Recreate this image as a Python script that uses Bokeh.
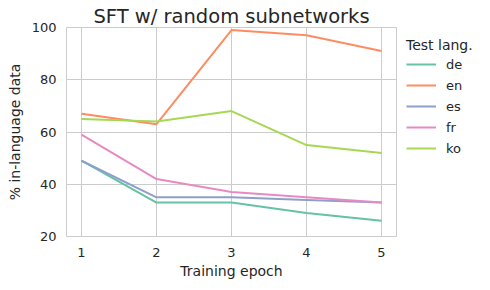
from bokeh.plotting import figure
from bokeh.models import Legend, LegendItem, Range1d, FixedTicker
from bokeh.embed import file_html
from bokeh.resources import INLINE

epochs = [1, 2, 3, 4, 5]
languages = ["de", "en", "es", "fr", "ko"]
de = [49, 33, 33, 29, 26]
en = [67, 63, 99, 97, 91]
es = [49, 35, 35, 34, 33]
fr = [59, 42, 37, 35, 33]
ko = [65, 64, 68, 55, 52]
series = [de, en, es, fr, ko]
colors = ["#66c2a5", "#fc8d62", "#8da0cb", "#e78ac3", "#a6d854"]
y_ticks = [20, 40, 60, 80, 100]

FONT = "DejaVu Sans"
TXT = "#262626"

p = figure(frame_width=330, frame_height=209, output_backend="svg", toolbar_location=None,
           x_range=Range1d(0.8, 5.2), y_range=Range1d(20, 100),
           min_border_left=66, min_border_right=4, min_border_bottom=45, min_border_top=27)

p.title.text = "SFT w/ random subnetworks"
p.title.text_font = FONT
p.title.text_font_size = "19.5px"
p.title.text_font_style = "normal"
p.title.text_color = TXT
p.title.align = "center"
p.title.standoff = 0

items = []
for lang, vals, c in zip(languages, series, colors):
    r = p.line(epochs, vals, line_color=c, line_width=2)
    items.append(LegendItem(label=lang, renderers=[r]))

legend = Legend(items=items, title="Test lang.", location="top_left",
                border_line_color=None, background_fill_alpha=0,
                label_text_font=FONT, label_text_font_size="13px", label_text_color=TXT,
                title_text_font=FONT, title_text_font_size="14px", title_text_font_style="normal",
                title_text_color=TXT, glyph_width=30, glyph_height=16, spacing=5,
                label_standoff=10, padding=4, margin=10, title_standoff=3)
p.add_layout(legend, "right")

p.xaxis.ticker = FixedTicker(ticks=epochs)
p.yaxis.ticker = FixedTicker(ticks=y_ticks)
for ax in (p.xaxis, p.yaxis):
    ax.axis_line_color = None
    ax.major_tick_line_color = None
    ax.minor_tick_line_color = None
    ax.major_label_text_font = FONT
    ax.major_label_text_font_size = "13px"
    ax.major_label_text_color = TXT
    ax.axis_label_text_font = FONT
    ax.axis_label_text_font_size = "14px"
    ax.axis_label_text_font_style = "normal"
    ax.axis_label_text_color = TXT
p.xaxis.major_label_standoff = 5
p.xaxis.axis_label_standoff = 3
p.yaxis.major_label_standoff = 4
p.yaxis.axis_label_standoff = 6
p.xaxis.axis_label = "Training epoch"
p.yaxis.axis_label = "% in-language data"

p.grid.grid_line_color = "#cccccc"
p.grid.grid_line_width = 1
p.outline_line_color = "#cccccc"
p.outline_line_width = 1
p.background_fill_color = "white"
p.border_fill_color = "white"

open("out.html", "w").write(file_html(p, INLINE))
